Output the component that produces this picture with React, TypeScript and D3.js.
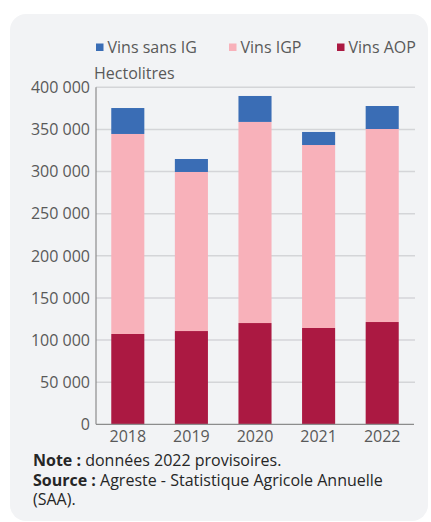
import React from "react";
import * as d3 from "d3";

const years = ["2018", "2019", "2020", "2021", "2022"];
const vinsAOP = [107200, 110700, 120200, 114300, 121400];
const vinsIGP = [237400, 188800, 238700, 217200, 229100];
const vinsSansIG = [30800, 15400, 30800, 15500, 27300];
const yTicks = [0, 50000, 100000, 150000, 200000, 250000, 300000, 350000, 400000];
const seriesNames = ["Vins AOP", "Vins IGP", "Vins sans IG"];
const seriesColors = ["#ab1942", "#f8b1ba", "#3a6db5"];
const legendOrder = [2, 1, 0];

const W = 431;
const H = 522;
const FONT = "'Open Sans', sans-serif";

export default function App() {
  const left = 96, right = 414, top = 87.3, bottom = 424.3;
  const x = d3.scaleBand<string>().domain(years).range([left, right]).paddingInner(0.48).paddingOuter(0.24);
  const y = d3.scaleLinear().domain([0, 400000]).range([bottom, top]);
  const table = years.map((yr, i) => ({ year: yr, a: vinsAOP[i], b: vinsIGP[i], c: vinsSansIG[i] }));
  const stack = d3.stack<any>().keys(["a", "b", "c"])(table);
  const fmt = (v: number) => d3.format(",")(v).replace(/,/g, " ");
  const legendX = [96, 229, 337];
  return (
    <svg width={W} height={H} style={{ position: "absolute", left: 0, top: 0 }}>
      <rect x={10} y={14} width={418} height={507} rx={16} fill="#f2f3f5" />
      {legendOrder.map((si, k) => (
        <g key={si}>
          <rect x={legendX[k]} y={43.5} width={7.5} height={7.5} fill={seriesColors[si]} />
          <text x={legendX[k] + 11.5} y={52.5} fontFamily={FONT} fontSize={16} fill="#595959">{seriesNames[si]}</text>
        </g>
      ))}
      <text x={94} y={78.5} fontFamily={FONT} fontSize={16} fill="#595959">Hectolitres</text>
      {yTicks.map((t) => (
        <g key={t}>
          {t > 0 && <line x1={left} x2={right + 1} y1={y(t)} y2={y(t)} stroke="#d4d5d8" strokeWidth={1.5} />}
          <text x={90} y={y(t) + 5.8} textAnchor="end" fontFamily={FONT} fontSize={16} fill="#595959">{fmt(t)}</text>
        </g>
      ))}
      {stack.map((s, si) => (
        <g key={si} fill={seriesColors[si]}>
          {s.map((d: any, i: number) => (
            <rect key={i} x={x(years[i])} width={x.bandwidth()} y={y(d[1])} height={y(d[0]) - y(d[1])} />
          ))}
        </g>
      ))}
      <line x1={left} x2={left} y1={top} y2={bottom} stroke="#8c8c8c" strokeWidth={1.2} />
      <line x1={left} x2={right} y1={bottom} y2={bottom} stroke="#8c8c8c" strokeWidth={1.2} />
      {years.map((yr) => (
        <text key={yr} x={(x(yr) as number) + x.bandwidth() / 2} y={441.5} textAnchor="middle" fontFamily={FONT} fontSize={16} fill="#595959">{yr}</text>
      ))}
      <text x={33} y={466} fontFamily={FONT} fontSize={16} fill="#262626">
        <tspan fontWeight="bold">Note :</tspan> données 2022 provisoires.
      </text>
      <text x={33} y={485.5} fontFamily={FONT} fontSize={16} fill="#262626">
        <tspan fontWeight="bold">Source :</tspan> Agreste - Statistique Agricole Annuelle
      </text>
      <text x={33} y={505} fontFamily={FONT} fontSize={16} fill="#262626">(SAA).</text>
    </svg>
  );
}
